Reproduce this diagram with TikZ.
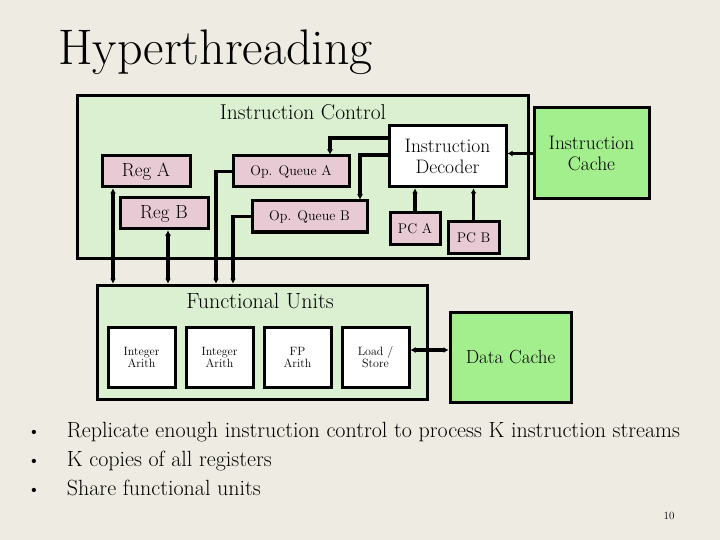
\documentclass[tikz,border=0pt]{standalone}
\usepackage{tikz}
\usetikzlibrary{arrows.meta, positioning}
\definecolor{slidebg}{RGB}{238,235,226}
\definecolor{ctlgreen}{RGB}{218,240,208}
\definecolor{cachegreen}{RGB}{163,238,141}
\definecolor{regpink}{RGB}{232,202,212}
\newcommand{\fsz}[1]{\fontsize{#1}{#1}\selectfont}

\begin{document}
\begin{tikzpicture}[
    x=1pt, y=-1pt,
    grpbox/.style={draw, line width=3pt, fill=ctlgreen, inner sep=0pt},
    regbox/.style={draw, line width=3pt, fill=regpink, align=center,
                   inner sep=0pt},
    whitebox/.style={draw, line width=3pt, fill=white, align=center,
                     inner sep=0pt},
    cachebox/.style={draw, line width=3pt, fill=cachegreen, align=center,
                     inner sep=0pt},
    arr/.style={-{Latex[length=5pt,width=6pt]}, line width=3.5pt},
    dblarr/.style={{Latex[length=5pt,width=6pt]}-{Latex[length=5pt,width=6pt]},
                   line width=3.5pt},
    bullet/.style={anchor=base west, font=\fsz{22}}
  ]

  \fill[slidebg] (0,0) rectangle (720,540);
  \useasboundingbox (0,0) rectangle (720,540);

  \node[anchor=base west, font=\fsz{50}, inner sep=0pt] (title) at (58,65) {Hyperthreading};

  % instruction control
  \node[grpbox, minimum width=451pt, minimum height=162pt] (ic) at (302.5,177) {};
  \node[font=\fsz{21.5}] (iclabel) at (303,112) {Instruction Control};

  \node[regbox, minimum width=88pt, minimum height=31pt, font=\fsz{19}] (rega) at (146,171.5) {Reg A};
  \node[regbox, minimum width=88pt, minimum height=31pt, font=\fsz{19}] (regb) at (164,213.5) {Reg B};
  \node[regbox, minimum width=116pt, minimum height=31pt, font=\fsz{14}] (qa) at (291,171.5) {Op. Queue A};
  \node[regbox, minimum width=115pt, minimum height=31pt, font=\fsz{14}] (qb) at (309.5,216.5) {Op. Queue B};
  \node[whitebox, minimum width=117pt, minimum height=61pt, font=\fsz{19.5}] (dec) at (447.5,156.5) {Instruction\\[2pt]Decoder};
  \node[regbox, minimum width=50pt, minimum height=31pt, font=\fsz{14}] (pca) at (415,228.5) {PC A};
  \node[regbox, minimum width=51pt, minimum height=31pt, font=\fsz{14}] (pcb) at (473.5,237.5) {PC B};
  \node[cachebox, minimum width=115pt, minimum height=91pt, font=\fsz{19.5}] (icache) at (591.5,153.5) {Instruction\\[2pt]Cache};

  % functional units
  \node[grpbox, minimum width=330pt, minimum height=114pt] (fu) at (262,342) {};
  \node[font=\fsz{22}] (fulabel) at (260,301) {Functional Units};

  \node[whitebox, minimum width=67pt, minimum height=60pt, font=\fsz{12}] (int1) at (141.5,357) {Integer\\Arith};
  \node[whitebox, minimum width=67pt, minimum height=60pt, font=\fsz{12}] (int2) at (219.5,357) {Integer\\Arith};
  \node[whitebox, minimum width=67pt, minimum height=60pt, font=\fsz{12}] (fp) at (297.5,357) {FP\\Arith};
  \node[whitebox, minimum width=67pt, minimum height=60pt, font=\fsz{12}] (ldst) at (375.5,357) {Load /\\Store};

  \node[cachebox, minimum width=121pt, minimum height=90pt, font=\fsz{19}] (dcache) at (510.5,357) {Data Cache};

  % connectors
  \draw[arr] ([yshift=18.5pt]dec.west) -| ([xshift=39pt]qa.north);
  \draw[arr] ([yshift=1.5pt]dec.west) -| ([xshift=50.5pt]qb.north);
  \draw[arr] (pca.north) -- (pca.north |- dec.south);
  \draw[arr] (pcb.north) -- (pcb.north |- dec.south);
  \draw[arr] (icache.west) -- (icache.west -| dec.east);

  \draw[dblarr] ([xshift=-33pt]rega.south) -- ([xshift=-33pt]rega.south |- fu.north);
  \draw[dblarr] ([xshift=4pt]regb.south) -- ([xshift=4pt]regb.south |- fu.north);
  \draw[arr] (qa.west) -| ([xshift=-46pt]fu.north);
  \draw[arr] (qb.west) -| ([xshift=-29pt]fu.north);
  \draw[dblarr] ([yshift=7pt]ldst.east) -- ([yshift=7pt]ldst.east -| dcache.west);

  % bullets
  \node[bullet, inner sep=0pt] (b1) at (27,437) {\fsz{19}\textbullet\hspace{26pt}\fsz{22}Replicate enough instruction control to process K instruction streams};
  \node[bullet, inner sep=0pt] (b2) at (27,466) {\fsz{19}\textbullet\hspace{26pt}\fsz{22}K copies of all registers};
  \node[bullet, inner sep=0pt] (b3) at (27,495) {\fsz{19}\textbullet\hspace{26pt}\fsz{22}Share functional units};

  \node[anchor=base east, font=\fsz{11}] (pnum) at (678,519) {10};

\end{tikzpicture}
\end{document}
